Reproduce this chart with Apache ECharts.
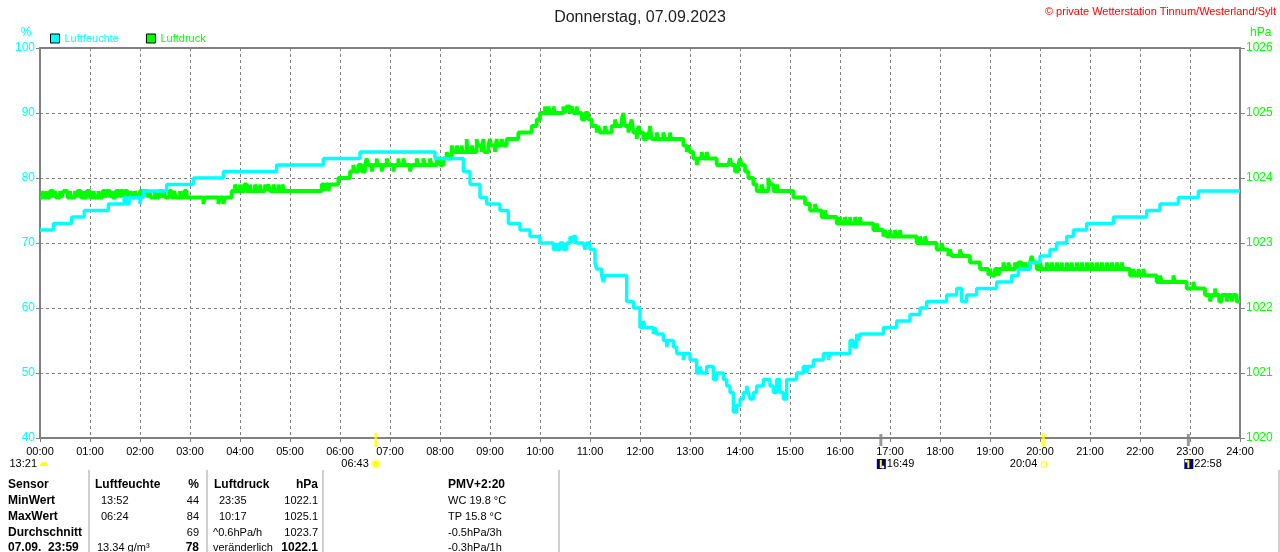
<!DOCTYPE html>
<html lang="de">
<head>
    <meta charset="UTF-8">
    <title>Luftfeuchte / Luftdruck 07.09.2023</title>
    <script src="https://cdn.jsdelivr.net/npm/echarts@6.0.0/dist/echarts.min.js"></script>
    <style>
        html, body { margin: 0; padding: 0; background: #fff; }
        #main { width: 1280px; height: 552px; }
    </style>
</head>
<body>
<div id="main"></div>
<script>
    // Zeiten in Minuten seit 00:00
    var stunden = ['00:00','01:00','02:00','03:00','04:00','05:00','06:00','07:00','08:00','09:00','10:00','11:00','12:00',
                   '13:00','14:00','15:00','16:00','17:00','18:00','19:00','20:00','21:00','22:00','23:00','24:00'];

    // Luftfeuchte in %  [Minute, Wert]
    var feuchte = [
        [0,72],[16,73],[38,74],[53,75],[82,76],[101,77],[104,76],[107,77],[120,76],[121,77],[124,78],[152,79],
        [184,80],[220,81],[284,82],[340,83],[384,84],[474,83],[496,83],[508,81],[516,79],[528,77],[536,76],
        [552,75],[562,73],[576,72],[588,71],[600,70],[616,69],[620,70],[621,69],[624,70],[628,69],[632,70],[636,71],
        [638,70],[640,71],[643,70],[652,70],[654,69],[656,70],[660,69],[666,67],[668,66],[674,65],[676,64],
        [678,65],[700,65],[704,61],[712,60],[720,57],[724,58],[726,57],[732,57],[736,56],[738,57],[740,56],
        [748,55],[752,54],[754,55],[760,54],[764,53],[768,53],[772,52],[774,53],[780,52],[788,50],[792,51],
        [794,50],[800,51],[808,49],[812,50],[816,50],[820,49],[824,48],[828,47],[832,44],[836,45],[840,46],
        [844,47],[848,48],[850,47],[852,46],[856,47],[860,48],[868,49],[876,48],[880,47],[884,49],[888,47],
        [892,46],[896,49],[904,49],[908,50],[916,51],[920,50],[922,51],[928,52],[940,53],[946,52],[948,53],
        [964,53],[972,55],[976,54],[980,56],[982,55],[984,56],[1000,56],[1012,57],[1028,58],[1044,59],[1056,60],
        [1064,61],[1088,62],[1100,63],[1106,61],[1112,62],[1124,63],[1148,64],[1166,65],[1174,66],[1188,67],
        [1200,68],[1212,69],[1220,70],[1232,71],[1240,72],[1256,73],[1288,74],[1328,75],[1344,76],[1366,77],
        [1390,78],[1440,78]
    ];

    // Luftdruck in hPa  [Minute, Wert]
    var druck = [
        [0,1023.7],[3,1023.8],[5,1023.7],[8,1023.8],[9,1023.7],[12,1023.8],[16,1023.7],[18,1023.8],[19,1023.7],
        [24,1023.8],[26,1023.7],[28,1023.8],[33,1023.7],[36,1023.8],[37,1023.7],[42,1023.8],[44,1023.7],[45,1023.8],
        [49,1023.7],[52,1023.8],[53,1023.7],[56,1023.8],[60,1023.7],[64,1023.8],[66,1023.7],[70,1023.8],[71,1023.7],
        [75,1023.8],[78,1023.7],[80,1023.8],[84,1023.7],[86,1023.8],[87,1023.7],[91,1023.8],[95,1023.7],[97,1023.8],
        [100,1023.7],[102,1023.8],[105,1023.7],[109,1023.8],[110,1023.7],[114,1023.8],[116,1023.7],[120,1023.8],
        [123,1023.7],[125,1023.8],[129,1023.7],[131,1023.8],[133,1023.7],[138,1023.8],[140,1023.7],[143,1023.8],
        [147,1023.7],[149,1023.8],[150,1023.7],[155,1023.8],[158,1023.7],[161,1023.8],[163,1023.7],[168,1023.8],
        [169,1023.7],[173,1023.8],[176,1023.7],[196,1023.6],[198,1023.7],[214,1023.6],[216,1023.7],[220,1023.6],
        [222,1023.7],[230,1023.8],[234,1023.9],[236,1023.8],[240,1023.9],[241,1023.8],[245,1023.9],[248,1023.8],
        [252,1023.9],[253,1023.8],[258,1023.9],[260,1023.8],[264,1023.9],[265,1023.8],[270,1023.9],[272,1023.8],
        [274,1023.9],[276,1023.8],[280,1023.9],[282,1023.8],[286,1023.9],[287,1023.8],[291,1023.9],[293,1023.8],
        [338,1023.9],[341,1023.8],[343,1023.9],[346,1023.8],[348,1023.9],[358,1024.0],[372,1024.1],[376,1024.2],
        [378,1024.1],[382,1024.2],[386,1024.1],[390,1024.2],[392,1024.3],[394,1024.2],[398,1024.1],[400,1024.2],
        [404,1024.3],[405,1024.2],[410,1024.1],[412,1024.2],[416,1024.3],[418,1024.2],[424,1024.1],[426,1024.2],
        [430,1024.3],[431,1024.2],[436,1024.3],[438,1024.2],[444,1024.1],[446,1024.2],[452,1024.3],[454,1024.2],
        [460,1024.3],[462,1024.2],[468,1024.3],[470,1024.2],[476,1024.3],[480,1024.2],[484,1024.3],[488,1024.4],
        [490,1024.3],[494,1024.5],[496,1024.4],[500,1024.5],[502,1024.4],[506,1024.5],[507,1024.4],[512,1024.6],
        [513,1024.4],[518,1024.5],[520,1024.4],[524,1024.6],[525,1024.5],[530,1024.4],[532,1024.6],[533,1024.4],
        [538,1024.5],[540,1024.6],[541,1024.5],[546,1024.4],[548,1024.6],[549,1024.5],[554,1024.6],[556,1024.5],
        [560,1024.6],[568,1024.6],[574,1024.7],[584,1024.7],[590,1024.8],[596,1024.9],[600,1025.0],[606,1025.1],
        [607,1025.0],[610,1025.1],[612,1025.0],[616,1025.1],[618,1025.0],[624,1025.0],[628,1025.1],[630,1025.0],
        [632,1025.1],[636,1025.0],[638,1025.1],[640,1025.0],[644,1025.1],[645,1025.0],[650,1024.9],[654,1025.0],
        [658,1024.9],[662,1024.8],[668,1024.7],[670,1024.8],[672,1024.7],[678,1024.8],[680,1024.7],[686,1024.8],
        [690,1024.9],[692,1024.8],[698,1024.9],[700,1025.0],[702,1024.8],[706,1024.7],[708,1024.8],[710,1024.9],
        [712,1024.7],[716,1024.6],[718,1024.8],[720,1024.7],[724,1024.6],[728,1024.7],[730,1024.6],[732,1024.8],
        [734,1024.6],[740,1024.7],[742,1024.6],[748,1024.7],[750,1024.6],[756,1024.7],[757,1024.6],[766,1024.6],
        [772,1024.5],[776,1024.4],[778,1024.5],[780,1024.4],[784,1024.3],[788,1024.2],[790,1024.3],[794,1024.4],
        [796,1024.3],[800,1024.4],[802,1024.3],[808,1024.3],[812,1024.2],[826,1024.2],[828,1024.3],[830,1024.2],
        [834,1024.1],[838,1024.2],[840,1024.3],[842,1024.2],[846,1024.1],[850,1024.0],[856,1023.9],[860,1023.8],
        [866,1023.9],[868,1023.8],[874,1024.0],[876,1023.9],[880,1023.8],[884,1023.9],[886,1023.8],[900,1023.8],
        [904,1023.7],[914,1023.7],[918,1023.6],[924,1023.5],[930,1023.6],[932,1023.5],[938,1023.4],[942,1023.5],
        [944,1023.4],[952,1023.4],[956,1023.3],[960,1023.4],[962,1023.3],[966,1023.4],[968,1023.3],[972,1023.4],
        [973,1023.3],[978,1023.4],[980,1023.3],[984,1023.4],[985,1023.3],[996,1023.3],[1000,1023.2],[1004,1023.3],
        [1006,1023.2],[1012,1023.1],[1014,1023.2],[1016,1023.1],[1020,1023.2],[1022,1023.1],[1026,1023.2],
        [1028,1023.1],[1032,1023.2],[1033,1023.1],[1048,1023.1],[1052,1023.0],[1056,1023.1],[1058,1023.0],
        [1062,1023.1],[1064,1023.0],[1072,1023.0],[1076,1022.9],[1082,1023.0],[1084,1022.9],[1090,1022.8],
        [1092,1022.9],[1094,1022.8],[1100,1022.8],[1104,1022.9],[1106,1022.8],[1112,1022.8],[1116,1022.7],
        [1124,1022.7],[1128,1022.6],[1134,1022.6],[1138,1022.5],[1140,1022.6],[1142,1022.5],[1146,1022.6],
        [1150,1022.5],[1152,1022.6],[1156,1022.7],[1158,1022.6],[1162,1022.7],[1164,1022.6],[1170,1022.7],
        [1172,1022.6],[1174,1022.7],[1178,1022.6],[1182,1022.7],[1184,1022.6],[1188,1022.7],[1190,1022.8],
        [1192,1022.7],[1196,1022.6],[1200,1022.7],[1202,1022.6],[1208,1022.7],[1210,1022.6],[1214,1022.7],
        [1216,1022.6],[1220,1022.7],[1222,1022.6],[1226,1022.7],[1227,1022.6],[1232,1022.7],[1234,1022.6],
        [1238,1022.7],[1239,1022.6],[1244,1022.7],[1246,1022.6],[1250,1022.7],[1252,1022.6],[1256,1022.7],
        [1258,1022.6],[1262,1022.7],[1264,1022.6],[1268,1022.7],[1270,1022.6],[1274,1022.7],[1276,1022.6],
        [1280,1022.7],[1282,1022.6],[1286,1022.7],[1288,1022.6],[1292,1022.7],[1294,1022.6],[1298,1022.7],
        [1300,1022.6],[1304,1022.6],[1308,1022.5],[1312,1022.6],[1314,1022.5],[1318,1022.6],[1320,1022.5],
        [1324,1022.6],[1326,1022.5],[1332,1022.5],[1340,1022.4],[1344,1022.5],[1346,1022.4],[1356,1022.4],
        [1360,1022.5],[1362,1022.4],[1372,1022.4],[1376,1022.3],[1384,1022.4],[1386,1022.3],[1394,1022.3],
        [1398,1022.2],[1404,1022.1],[1406,1022.2],[1410,1022.3],[1411,1022.2],[1415,1022.1],[1418,1022.2],
        [1424,1022.1],[1426,1022.2],[1430,1022.1],[1432,1022.2],[1436,1022.1],[1440,1022.1]
    ];

    // Sonne / Mond  [Minute, Text]
    var sonneAuf = [403, '06:43'];
    var sonneUnter = [1204, '20:04'];
    var mondUnter = [1009, '16:49'];
    var mondAuf = [1378, '22:58'];
    var mondVortag = [0, '13:21'];

    // Tabelle unten
    var tabKopf = ['Sensor', 'Luftfeuchte', '%', 'Luftdruck', 'hPa', 'PMV+2:20'];
    var tabZeilen = [
        ['MinWert', '13:52', '44', '23:35', '1022.1', 'WC 19.8 °C'],
        ['MaxWert', '06:24', '84', '10:17', '1025.1', 'TP 15.8 °C'],
        ['Durchschnitt', '', '69', '^0.6hPa/h', '1023.7', '-0.5hPa/3h'],
        ['07.09.  23:59', '13.34 g/m³', '78', 'veränderlich', '1022.1', '-0.3hPa/1h']
    ];

    var FONT = 'Arial, "Liberation Sans", sans-serif';
    var CYAN = '#00ffff', GRUEN = '#00ff00', GRAU = '#808080';

    var chart = echarts.init(document.getElementById('main'), null, {renderer: 'canvas'});

    var option = {
        animation: false,
        backgroundColor: '#fff',
        textStyle: {fontFamily: FONT},
        title: {
            text: 'Donnerstag, 07.09.2023',
            left: 'center',
            top: 5,
            textStyle: {fontSize: 16, fontWeight: 'normal', color: '#222', fontFamily: FONT}
        },
        legend: {
            left: 50,
            top: 33,
            padding: 0,
            icon: 'rect',
            itemWidth: 9,
            itemHeight: 9,
            itemGap: 27,
            itemStyle: {borderColor: '#000', borderWidth: 1},
            textStyle: {fontSize: 11, fontFamily: FONT},
            data: [
                {name: 'Luftfeuchte', textStyle: {color: CYAN}},
                {name: 'Luftdruck', textStyle: {color: GRUEN}}
            ]
        },
        grid: {
            left: 40, right: 40, top: 48, bottom: 114,
            show: true, borderColor: GRAU, borderWidth: 2, backgroundColor: '#fff',
            containLabel: false
        },
        xAxis: {
            type: 'value',
            min: 0, max: 1440, interval: 60,
            axisLine: {show: true, onZero: false, lineStyle: {color: GRAU, width: 2}},
            axisTick: {show: true, length: 4, lineStyle: {color: GRAU}},
            axisLabel: {
                color: '#000', fontSize: 11, margin: 8, fontFamily: FONT,
                showMinLabel: true, showMaxLabel: true, hideOverlap: false,
                formatter: function (v) { return stunden[Math.round(v / 60)]; }
            },
            splitLine: {show: true, lineStyle: {color: GRAU, width: 1, type: [3, 3]}}
        },
        yAxis: [
            {
                type: 'value', position: 'left',
                min: 40, max: 100, interval: 10,
                axisLine: {show: true, lineStyle: {color: GRAU, width: 2}},
                axisTick: {show: true, length: 4, lineStyle: {color: GRAU}},
                axisLabel: {color: CYAN, fontSize: 12, margin: 5, fontFamily: FONT, showMinLabel: true, showMaxLabel: true},
                splitLine: {show: true, lineStyle: {color: GRAU, width: 1, type: [3, 3]}}
            },
            {
                type: 'value', position: 'right',
                min: 1020, max: 1026, interval: 1,
                axisLine: {show: true, lineStyle: {color: GRAU, width: 2}},
                axisTick: {show: true, length: 5, lineStyle: {color: GRAU}},
                axisLabel: {
                    color: GRUEN, fontSize: 12, margin: 6, fontFamily: FONT, showMinLabel: true, showMaxLabel: true,
                    formatter: function (v) { return String(v); }
                },
                splitLine: {show: false}
            }
        ],
        series: [
            {
                name: 'Luftdruck',
                type: 'line',
                yAxisIndex: 1,
                step: 'end',
                showSymbol: false,
                data: druck,
                itemStyle: {color: GRUEN},
                lineStyle: {color: GRUEN, width: 3.8},
                z: 2
            },
            {
                name: 'Luftfeuchte',
                type: 'line',
                yAxisIndex: 0,
                step: 'end',
                showSymbol: false,
                data: feuchte,
                itemStyle: {color: CYAN},
                lineStyle: {color: CYAN, width: 3.4},
                z: 3
            },
            {
                // Sonnenauf- und -untergang
                name: 'Sonne',
                type: 'scatter',
                yAxisIndex: 0,
                symbol: 'rect',
                symbolSize: [3, 14],
                symbolOffset: [0, 2],
                clip: false,
                silent: true,
                itemStyle: {color: '#ffff00'},
                data: [[sonneAuf[0], 40], [sonneUnter[0], 40]],
                z: 4
            },
            {
                // Mondauf- und -untergang
                name: 'Mond',
                type: 'scatter',
                yAxisIndex: 0,
                symbol: 'rect',
                symbolSize: [3, 12],
                symbolOffset: [0, 2],
                clip: false,
                silent: true,
                itemStyle: {color: GRAU},
                data: [[mondUnter[0], 40], [mondAuf[0], 40]],
                z: 4
            }
        ]
    };
    chart.setOption(option);

    // Zusatztexte: Einheiten, Copyright, Sonne/Mond, Tabelle
    function px(t) { return chart.convertToPixel({xAxisIndex: 0}, t); }

    function txt(x, y, s, opt) {
        opt = opt || {};
        return {
            type: 'text', x: x, y: y, silent: true,
            style: {
                text: s, fill: opt.color || '#000',
                font: (opt.bold ? 'bold ' : '') + (opt.size || 11) + 'px ' + FONT,
                align: opt.align || 'left', verticalAlign: 'middle'
            }
        };
    }

    function sonne(x, y) {
        return {type: 'circle', shape: {cx: x, cy: y, r: 4}, silent: true,
            style: {fill: '#ffff00', stroke: '#ffff99', lineWidth: 2}};
    }
    function mondIcon(x, y, hoch) {
        return {type: 'group', silent: true, children: [
            {type: 'rect', shape: {x: x - 4, y: y - 5, width: 9, height: 10}, style: {fill: '#000080'}},
            {type: 'circle', shape: {cx: hoch ? x - 2 : x + 2, cy: hoch ? y - 3 : y + 3, r: 1.5}, style: {fill: '#fff'}},
            {type: 'line', shape: {x1: x, y1: y - 4, x2: x, y2: y + 4}, style: {stroke: '#ffff00', lineWidth: 2}}
        ]};
    }

    var yZeit = 464;
    var g = [];
    g.push(txt(26, 33, '%', {color: CYAN, size: 12, align: 'center'}));
    g.push(txt(1250, 33, 'hPa', {color: GRUEN, size: 12}));
    g.push(txt(1276, 12, '© private Wetterstation Tinnum/Westerland/Sylt', {color: '#ff0000', align: 'right'}));

    // Mond vom Vortag (halbe Scheibe)
    g.push(txt(px(mondVortag[0]) - 3, yZeit, mondVortag[1], {align: 'right'}));
    g.push({type: 'sector', silent: true,
        shape: {cx: px(mondVortag[0]) + 4, cy: yZeit + 2, r0: 0, r: 4, startAngle: Math.PI, endAngle: 2 * Math.PI},
        style: {fill: '#ffff00'}});

    g.push(txt(px(sonneAuf[0]) - 7, yZeit, sonneAuf[1], {align: 'right'}));
    g.push(sonne(px(sonneAuf[0]), yZeit));

    g.push(txt(px(sonneUnter[0]) - 6, yZeit, sonneUnter[1], {align: 'right'}));
    g.push({type: 'rect', silent: true, shape: {x: px(sonneUnter[0]) - 2, y: yZeit - 2, width: 5, height: 5},
        style: {fill: 'none', stroke: '#ffff00', lineWidth: 1}});

    g.push(mondIcon(px(mondUnter[0]), yZeit, false));
    g.push(txt(px(mondUnter[0]) + 6, yZeit, mondUnter[1]));
    g.push(mondIcon(px(mondAuf[0]), yZeit, true));
    g.push(txt(px(mondAuf[0]) + 6, yZeit, mondAuf[1]));

    // Tabelle
    var spalteX = [8, 101, 199, 219, 318, 448];
    var spalteAlign = ['left', 'left', 'right', 'left', 'right', 'left'];
    var zeileY = [485, 501, 517, 533, 548];
    [89, 207, 323, 559, 1279].forEach(function (x) {
        g.push({type: 'line', silent: true, shape: {x1: x, y1: 470, x2: x, y2: 552},
            style: {stroke: '#a0a0a0', lineWidth: 1}});
    });
    tabKopf.forEach(function (s, i) {
        var x = spalteX[i];
        if (i === 1) x = 95;
        if (i === 3) x = 214;
        g.push(txt(x, zeileY[0], s, {bold: true, size: 12, align: spalteAlign[i]}));
    });
    tabZeilen.forEach(function (z, r) {
        var letzte = r === tabZeilen.length - 1;
        z.forEach(function (s, i) {
            var x = spalteX[i];
            if (i === 3 && !/^\d/.test(s)) x = 213;
            if (i === 1 && letzte) x = 97;
            var fett = i === 0 || (letzte && (i === 2 || i === 4));
            g.push(txt(x, zeileY[r + 1], s, {bold: fett, size: fett ? 12 : 11, align: spalteAlign[i]}));
        });
    });

    chart.setOption({graphic: g});
</script>
</body>
</html>
